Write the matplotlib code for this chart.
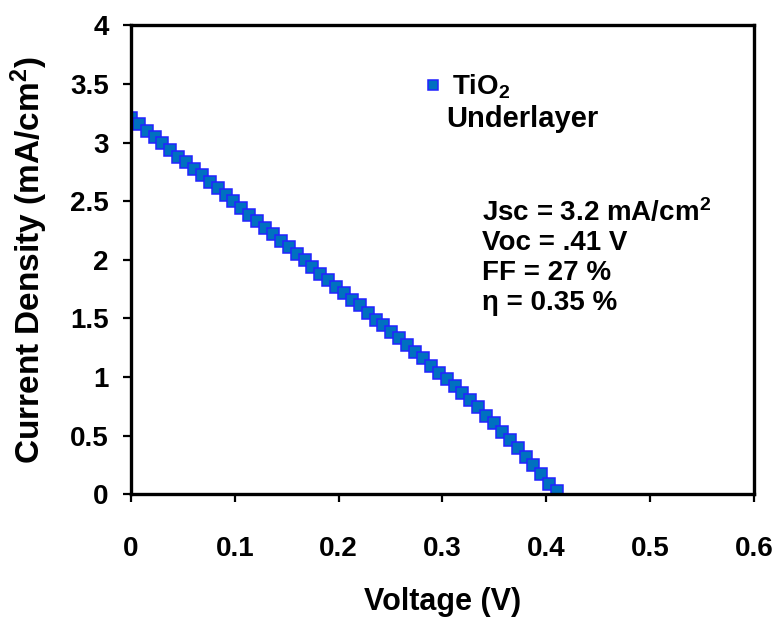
import matplotlib
matplotlib.use("Agg")
import matplotlib.pyplot as plt

# J-V data
voltage = [0.0000, 0.0076, 0.0152, 0.0228, 0.0304, 0.0380, 0.0456, 0.0532, 0.0608, 0.0684,
           0.0760, 0.0836, 0.0912, 0.0988, 0.1064, 0.1140, 0.1216, 0.1292, 0.1368, 0.1444,
           0.1520, 0.1596, 0.1672, 0.1748, 0.1824, 0.1900, 0.1976, 0.2052, 0.2128, 0.2204,
           0.2280, 0.2356, 0.2432, 0.2508, 0.2584, 0.2660, 0.2736, 0.2812, 0.2888, 0.2964,
           0.3040, 0.3116, 0.3192, 0.3268, 0.3344, 0.3420, 0.3496, 0.3572, 0.3648, 0.3724,
           0.3800, 0.3876, 0.3952, 0.4028, 0.4104]
current = [3.21, 3.16, 3.10, 3.05, 3.00, 2.94, 2.88, 2.83, 2.77, 2.72,
           2.66, 2.61, 2.55, 2.50, 2.44, 2.38, 2.33, 2.27, 2.22, 2.16,
           2.11, 2.05, 2.00, 1.94, 1.88, 1.83, 1.77, 1.72, 1.66, 1.61,
           1.55, 1.49, 1.44, 1.38, 1.33, 1.27, 1.21, 1.16, 1.09, 1.03,
           0.98, 0.92, 0.86, 0.80, 0.74, 0.67, 0.61, 0.53, 0.46, 0.39,
           0.32, 0.25, 0.17, 0.085, 0.03]

series_label = "TiO$_2$"
stats_lines = ["Jsc = 3.2 mA/cm$^2$", "Voc = .41 V", "FF = 27 %", "\u03b7 = 0.35 %"]
x_ticks = [0, 0.1, 0.2, 0.3, 0.4, 0.5, 0.6]
x_tick_labels = ["0", "0.1", "0.2", "0.3", "0.4", "0.5", "0.6"]
y_ticks = [0, 0.5, 1, 1.5, 2, 2.5, 3, 3.5, 4]
y_tick_labels = ["0", "0.5", "1", "1.5", "2", "2.5", "3", "3.5", "4"]

plt.rcParams["font.family"] = ["Liberation Sans", "DejaVu Sans"]
plt.rcParams["mathtext.default"] = "regular"

fig = plt.figure(figsize=(7.79, 6.17), dpi=100)
ax = fig.add_axes([0.168, 0.199, 0.800, 0.760])

ax.plot(voltage, current, linestyle="none", marker="s", markersize=8.3,
        markerfacecolor="#0070C0", markeredgecolor="#2222FF", markeredgewidth=1.1,
        label=series_label)

ax.set_xlim(0, 0.6)
ax.set_ylim(0, 4)
ax.set_xticks(x_ticks)
ax.set_xticklabels(x_tick_labels)
ax.set_yticks(y_ticks)
ax.set_yticklabels(y_tick_labels)
for lbl in ax.get_xticklabels() + ax.get_yticklabels():
    lbl.set_fontweight("bold")
    lbl.set_fontsize(20)

for side in ["left", "bottom", "top", "right"]:
    ax.spines[side].set_linewidth(2.4)
    ax.spines[side].set_color("black")
ax.tick_params(direction="out", length=6, width=1.6)
ax.tick_params(axis="x", pad=24)
ax.tick_params(axis="y", pad=10)

ax.set_xlabel("Voltage (V)", fontsize=22, fontweight="bold", labelpad=18)
ax.set_ylabel("Current Density (mA/cm$^2$)", fontsize=24, fontweight="bold", labelpad=14)

leg = ax.legend(loc="upper left", bbox_to_anchor=(0.453, 0.922), frameon=False,
                fontsize=20, handlelength=0.6, handletextpad=0.4, markerscale=0.8,
                borderaxespad=0)
for t in leg.get_texts():
    t.set_fontweight("bold")
ax.text(0.506, 0.80, "Underlayer", transform=ax.transAxes, fontsize=21,
        fontweight="bold", va="center", ha="left")

for i, line in enumerate(stats_lines):
    ax.text(0.564, 0.60 - i * 0.064, line, transform=ax.transAxes, fontsize=20,
            fontweight="bold", va="center", ha="left")

fig.savefig("out.png", dpi=100)
